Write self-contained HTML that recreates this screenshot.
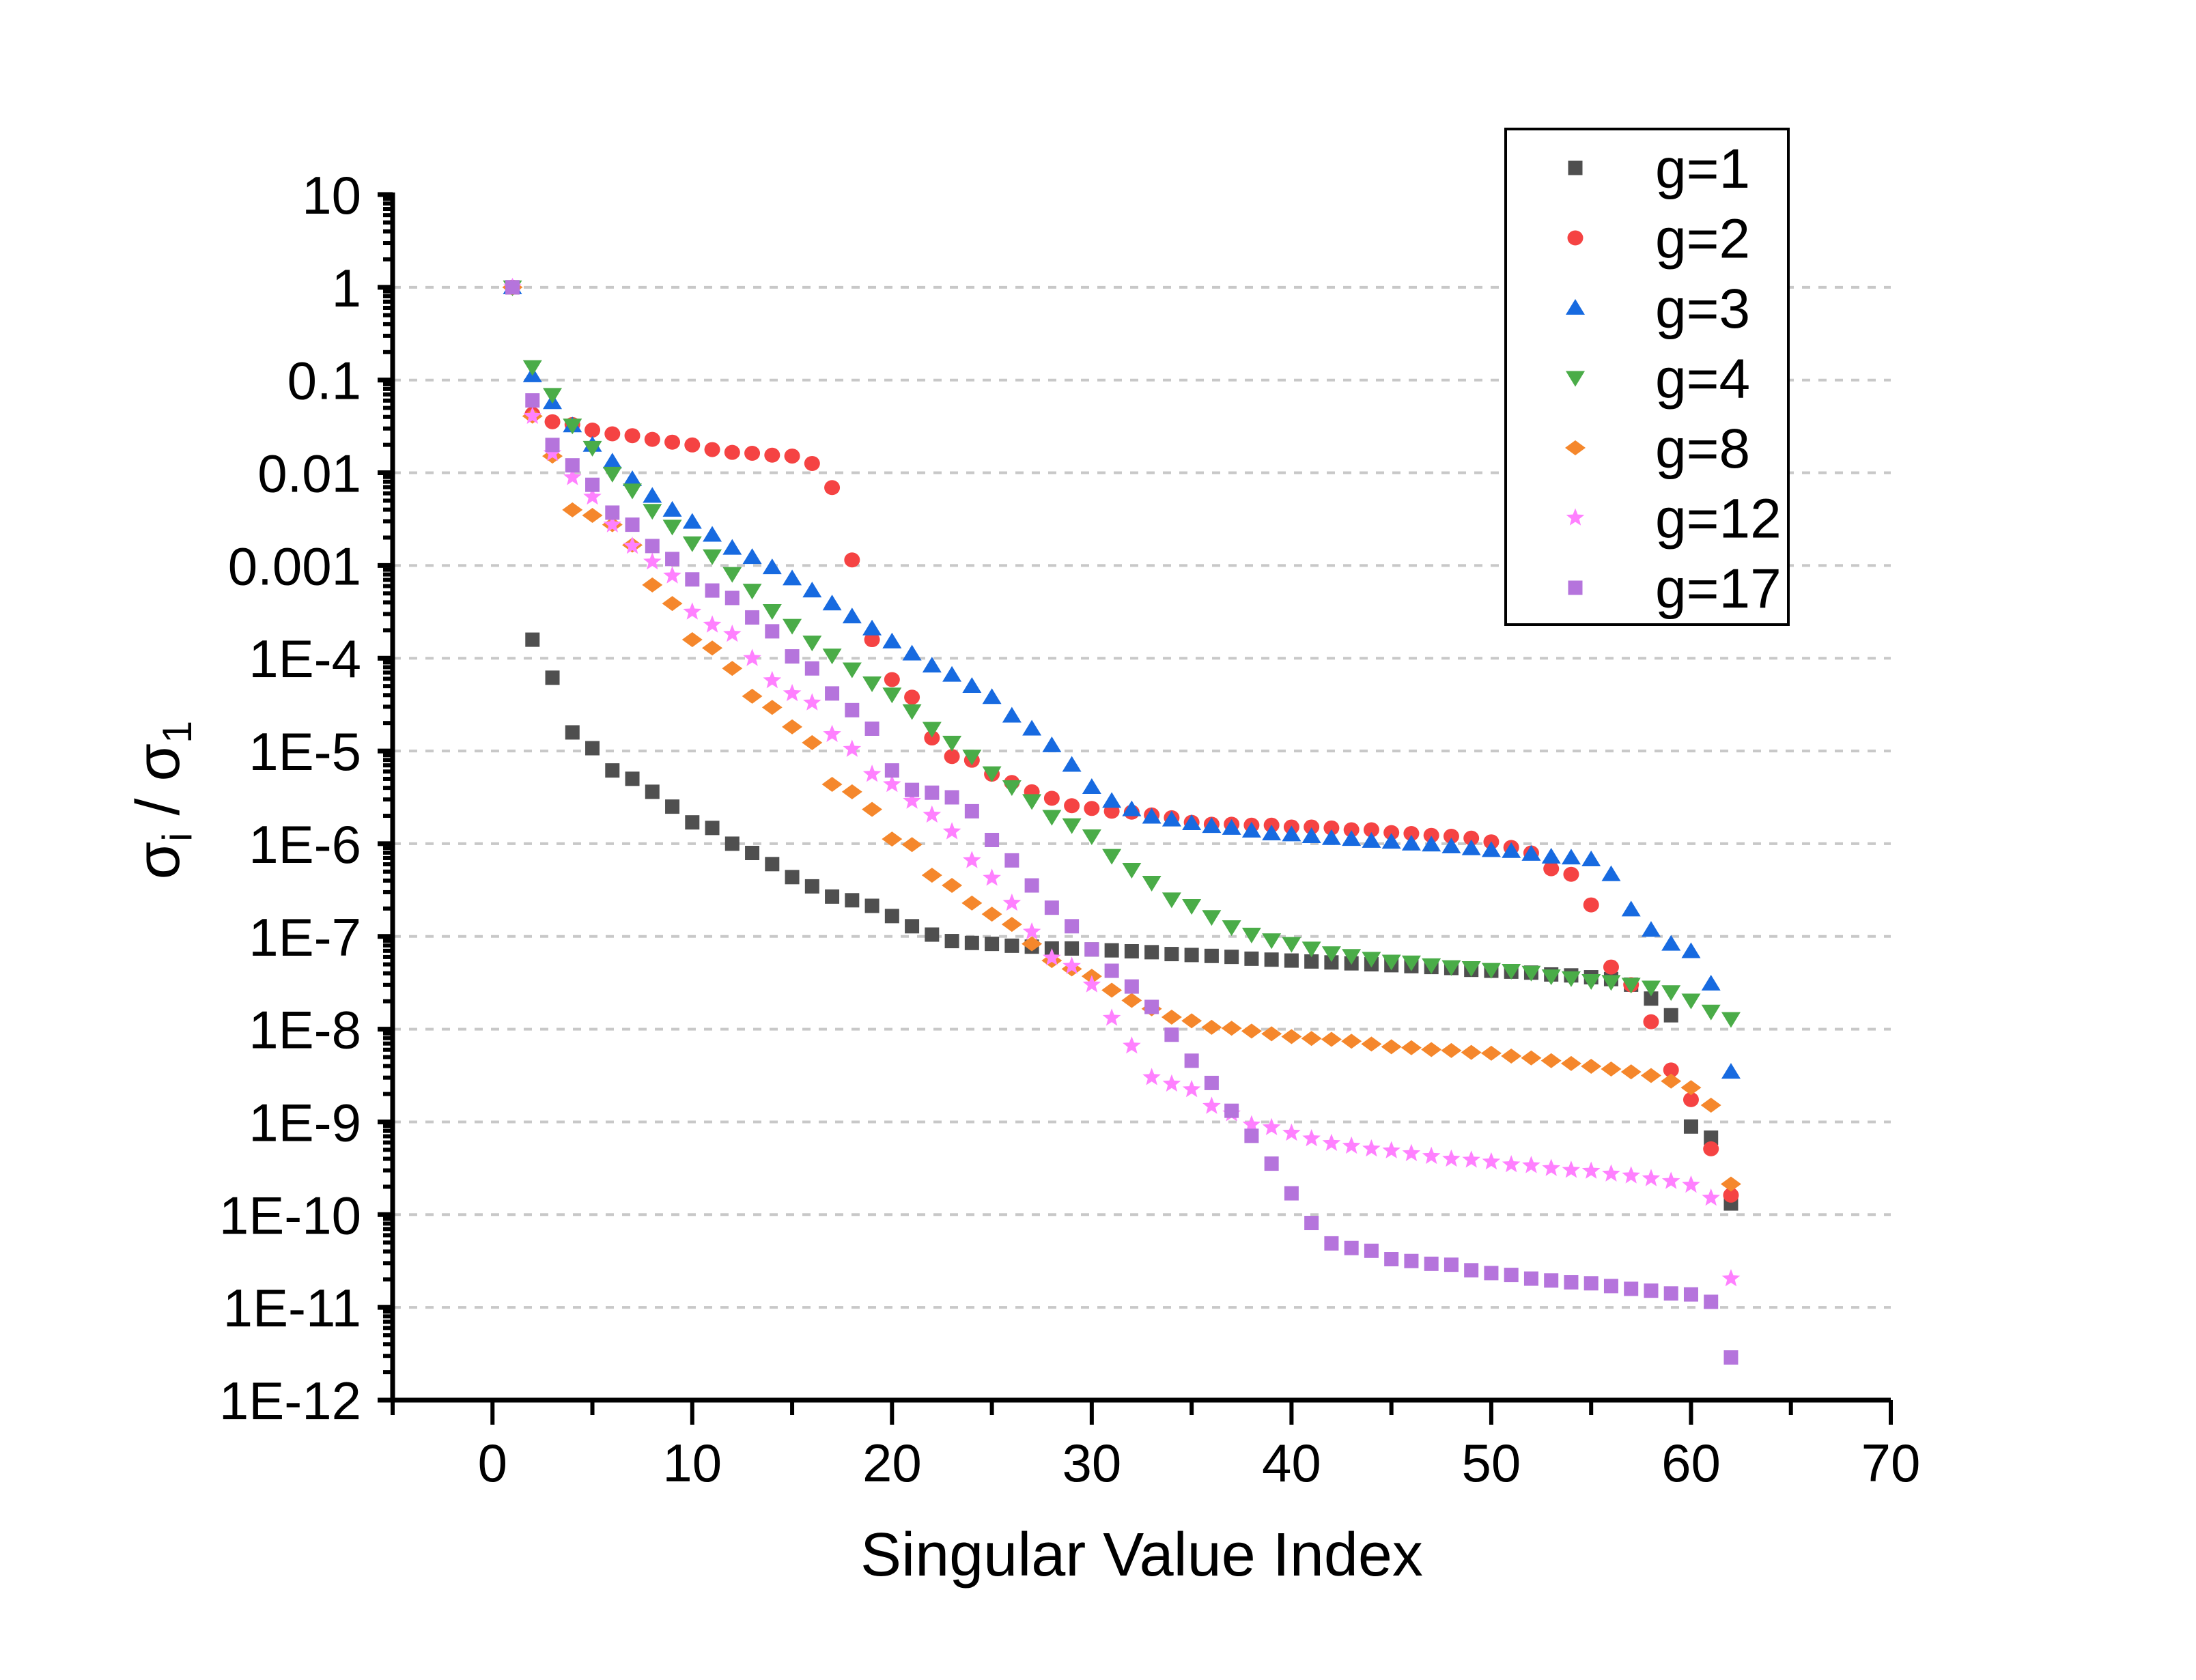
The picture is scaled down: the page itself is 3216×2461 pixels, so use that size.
<!DOCTYPE html>
<html><head><meta charset="utf-8"><style>
html,body{margin:0;padding:0;background:#fff;}
svg{display:block;font-family:"Liberation Sans",Arial,sans-serif;}
</style></head><body>
<svg id="chart" width="3216" height="2461" viewBox="0 0 3216 2461" xmlns="http://www.w3.org/2000/svg">
<rect x="0" y="0" width="3216" height="2461" fill="#fff"/>
<g id="grid"></g>
<g id="points"></g>
<g id="axes"></g>
<text x="1672" y="2308" font-size="90" text-anchor="middle">Singular Value Index</text>
<text transform="translate(262,1172) rotate(-90)" font-size="90" text-anchor="middle">σ<tspan font-size="60" dy="18">i</tspan><tspan dy="-18"> / σ</tspan><tspan font-size="60" dy="18">1</tspan></text>
<g id="legend"></g>
</svg>
<script>
// ---- data (log10 of sigma_i / sigma_1), index 1..62 ----
const seriesNames = ["g=1","g=2","g=3","g=4","g=8","g=12","g=17"];
const g1 = [0,-3.80,-4.21,-4.80,-4.97,-5.21,-5.30,-5.44,-5.60,-5.77,-5.83,-6.00,-6.10,-6.22,-6.36,-6.46,-6.57,-6.61,-6.67,-6.78,-6.89,-6.98,-7.05,-7.07,-7.08,-7.10,-7.11,-7.13,-7.13,-7.14,
 -7.15,-7.16,-7.17,-7.19,-7.20,-7.21,-7.22,-7.24,-7.25,-7.26,-7.27,-7.28,-7.29,-7.30,-7.31,-7.32,-7.33,-7.34,-7.36,-7.37,-7.38,-7.39,-7.41,-7.42,-7.44,-7.46,-7.52,-7.67,-7.85,-9.05,-9.17,-9.88];
const g2 = [0,-1.37,-1.45,-1.48,-1.54,-1.58,-1.60,-1.64,-1.67,-1.70,-1.75,-1.78,-1.79,-1.81,-1.82,-1.90,-2.16,-2.94,-3.80,-4.23,-4.42,-4.86,-5.06,-5.10,-5.25,-5.34,-5.44,-5.51,-5.59,-5.62,-5.65,-5.66,-5.69,-5.72,-5.77,
 -5.79,-5.79,-5.80,-5.80,-5.82,-5.82,-5.83,-5.85,-5.85,-5.88,-5.89,-5.91,-5.92,-5.94,-5.98,
 -6.04,-6.10,-6.27,-6.33,-6.66,-7.33,-7.52,-7.92,-8.44,-8.76,-9.29,-9.79];
const g3 = [0,-0.95,-1.24,-1.49,-1.70,-1.88,-2.07,-2.25,-2.40,-2.53,-2.67,-2.81,-2.91,-3.02,-3.14,-3.27,-3.41,-3.55,-3.68,-3.82,-3.95,-4.08,-4.18,-4.30,-4.42,-4.62,-4.76,-4.94,-5.15,-5.39,-5.54,-5.63,-5.71,-5.74,-5.78,-5.81,-5.83,-5.86,-5.89,-5.90,
 -5.92,-5.94,-5.95,-5.97,-5.98,-6.00,-6.01,-6.03,-6.05,-6.07,
 -6.08,-6.11,-6.14,-6.15,-6.17,-6.33,-6.71,-6.93,-7.08,-7.16,-7.51,-8.46];
const g4 = [0,-0.86,-1.16,-1.49,-1.73,-2.01,-2.19,-2.41,-2.58,-2.76,-2.90,-3.09,-3.27,-3.49,-3.65,-3.83,-3.97,-4.12,-4.27,-4.39,-4.57,-4.76,-4.91,-5.06,-5.24,-5.39,-5.54,-5.71,-5.80,-5.92,-6.13,-6.28,-6.42,-6.60,-6.67,-6.79,-6.90,-6.98,-7.04,-7.08,-7.13,
 -7.18,-7.21,-7.24,-7.27,-7.28,-7.31,-7.33,-7.34,-7.36,-7.37,-7.39,-7.43,-7.45,-7.48,-7.49,-7.52,-7.55,-7.60,-7.69,-7.81,-7.89];
const g8 = [0,-1.39,-1.82,-2.40,-2.46,-2.56,-2.78,-3.21,-3.41,-3.80,-3.89,-4.11,-4.41,-4.53,-4.74,-4.91,-5.36,-5.44,-5.63,-5.95,-6.01,-6.34,-6.45,-6.64,-6.76,-6.87,-7.08,-7.26,-7.35,-7.43,-7.58,-7.69,-7.78,-7.87,-7.91,
 -7.98,-7.99,-8.02,-8.05,-8.08,-8.10,-8.11,-8.13,-8.16,-8.19,-8.20,-8.22,-8.23,-8.25,-8.26,-8.29,-8.31,-8.34,-8.37,-8.40,-8.43,-8.46,-8.50,-8.56,-8.63,-8.82,-9.67];
const g12 = [0,-1.39,-1.79,-2.05,-2.26,-2.56,-2.79,-2.96,-3.11,-3.50,-3.64,-3.74,-4.00,-4.24,-4.38,-4.48,-4.82,-4.98,-5.25,-5.36,-5.54,-5.69,-5.87,-6.18,-6.37,-6.64,-6.95,-7.23,-7.32,-7.52,-7.88,-8.18,-8.52,-8.59,-8.65,-8.83,-8.91,-9.03,-9.06,-9.12,
 -9.18,-9.23,-9.26,-9.29,-9.31,-9.34,-9.37,-9.40,-9.41,-9.43,-9.46,-9.47,-9.50,-9.52,-9.53,-9.56,-9.58,-9.61,-9.64,-9.68,-9.82,-10.69];
const g17 = [0,-1.22,-1.70,-1.92,-2.13,-2.43,-2.56,-2.79,-2.93,-3.15,-3.27,-3.35,-3.56,-3.71,-3.98,-4.11,-4.38,-4.56,-4.76,-5.21,-5.42,-5.45,-5.50,-5.65,-5.96,-6.18,-6.45,-6.69,-6.89,-7.14,-7.37,-7.54,-7.76,-8.06,-8.34,-8.58,-8.88,-9.15,-9.45,-9.77,-10.09,-10.31,-10.36,-10.39,-10.48,
 -10.50,-10.53,-10.54,-10.60,-10.63,-10.65,-10.69,-10.71,-10.73,-10.74,-10.77,-10.80,-10.82,-10.85,-10.86,-10.94,-11.54];
const xTicks = [0,10,20,30,40,50,60,70];
const yTickExps = [1,0,-1,-2,-3,-4,-5,-6,-7,-8,-9,-10,-11,-12];
const yTickLabels = ["10","1","0.1","0.01","0.001","1E-4","1E-5","1E-6","1E-7","1E-8","1E-9","1E-10","1E-11","1E-12"];

const allSeries = [g1,g2,g3,g4,g8,g12,g17];
const colors = ["#4f4f4f","#f54343","#176ae0","#4aac48","#f5872c","#ff80ff","#b574dc"];
const shapes = ["square","circle","up","down","diamond","star","square"];

const NS="http://www.w3.org/2000/svg";
const X0=575, X1=2769, XMIN=-5, XMAX=70;
const YTOP=285, YBOT=2051, EMAX=1, EMIN=-12;
function sx(v){return X0+(v-XMIN)/(XMAX-XMIN)*(X1-X0);}
function sy(e){return YTOP+(EMAX-e)/(EMAX-EMIN)*(YBOT-YTOP);}
function mk(tag,attrs,parent){const el=document.createElementNS(NS,tag);for(const k in attrs)el.setAttribute(k,attrs[k]);parent.appendChild(el);return el;}

const grid=document.getElementById('grid');
const axes=document.getElementById('axes');
const pts=document.getElementById('points');
const leg=document.getElementById('legend');

// gridlines
yTickExps.forEach(e=>{
  if(e===EMAX||e===EMIN) return;
  const l=mk('line',{x1:X0,x2:X1,y1:sy(e),y2:sy(e),stroke:'#c8c8c8','stroke-width':4,'stroke-dasharray':'12 12'},grid);
  
  
});

// axes lines
const xa=mk('line',{x1:X0-22,x2:X1,y1:YBOT,y2:YBOT,stroke:'#000','stroke-width':7},axes);


const ya=mk('line',{x1:X0,x2:X0,y1:YTOP-3,y2:YBOT+3,stroke:'#000','stroke-width':7},axes);



// x ticks
for(let v=-5; v<=70; v+=5){
  const major = v%10===0;
  const t=mk('line',{x1:sx(v),x2:sx(v),y1:YBOT,y2:YBOT+(major?36:22),stroke:'#000','stroke-width':6},axes);
  
  
}
xTicks.forEach(v=>{
  const t=mk('text',{x:sx(v),y:2170,'font-size':78,'text-anchor':'middle'},axes);
  t.textContent=String(v);
  
  
});

// y ticks
yTickExps.forEach((e,i)=>{
  const t=mk('line',{x1:X0-22,x2:X0,y1:sy(e),y2:sy(e),stroke:'#000','stroke-width':7},axes);
  
  
  const lb=mk('text',{x:529,y:sy(e)+28,'font-size':78,'text-anchor':'end'},axes);
  lb.textContent=yTickLabels[i];
  
  
  if(e>EMIN){
    for(let m=2;m<=9;m++){
      const yy=sy(e-1+Math.log10(m));
      const mt=mk('line',{x1:X0-14,x2:X0,y1:yy,y2:yy,stroke:'#000','stroke-width':6},axes);
      
      
    }
  }
});

function marker(shape,cx,cy,color,parent){
  let el;
  if(shape==='square') el=mk('rect',{x:cx-10.5,y:cy-10.5,width:21,height:21,fill:color},parent);
  else if(shape==='circle') el=mk('ellipse',{cx:cx,cy:cy,rx:11.5,ry:11,fill:color},parent);
  else if(shape==='up') el=mk('polygon',{points:`${cx},${cy-13} ${cx+14},${cy+10} ${cx-14},${cy+10}`,fill:color},parent);
  else if(shape==='down') el=mk('polygon',{points:`${cx},${cy+13} ${cx+14},${cy-10} ${cx-14},${cy-10}`,fill:color},parent);
  else if(shape==='diamond') el=mk('polygon',{points:`${cx},${cy-11} ${cx+15},${cy} ${cx},${cy+11} ${cx-15},${cy}`,fill:color},parent);
  else { let p=[]; for(let k=0;k<10;k++){const r=k%2?6:14; const a=-Math.PI/2+k*Math.PI/5; p.push((cx+r*Math.cos(a)).toFixed(1)+','+(cy+r*Math.sin(a)).toFixed(1));} el=mk('polygon',{points:p.join(' '),fill:color},parent);}
  return el;
}

allSeries.forEach((s,si)=>{
  const g=mk('g',{},pts);
  
  
  s.forEach((e,i)=>{
    const m=marker(shapes[si],sx(i+1),sy(e),colors[si],g);
    
    
  });
});

// legend
const box=mk('rect',{x:2205,y:189,width:414,height:726,fill:'#fff',stroke:'#000','stroke-width':4},leg);


seriesNames.forEach((n,i)=>{
  const cy=246+i*102.5;
  const g=mk('g',{},leg);
  
  
  marker(shapes[i],2307,cy,colors[i],g);
  const t=mk('text',{x:2424,y:cy+29,'font-size':82},g);
  t.textContent=n;
});
</script>
</body></html>
